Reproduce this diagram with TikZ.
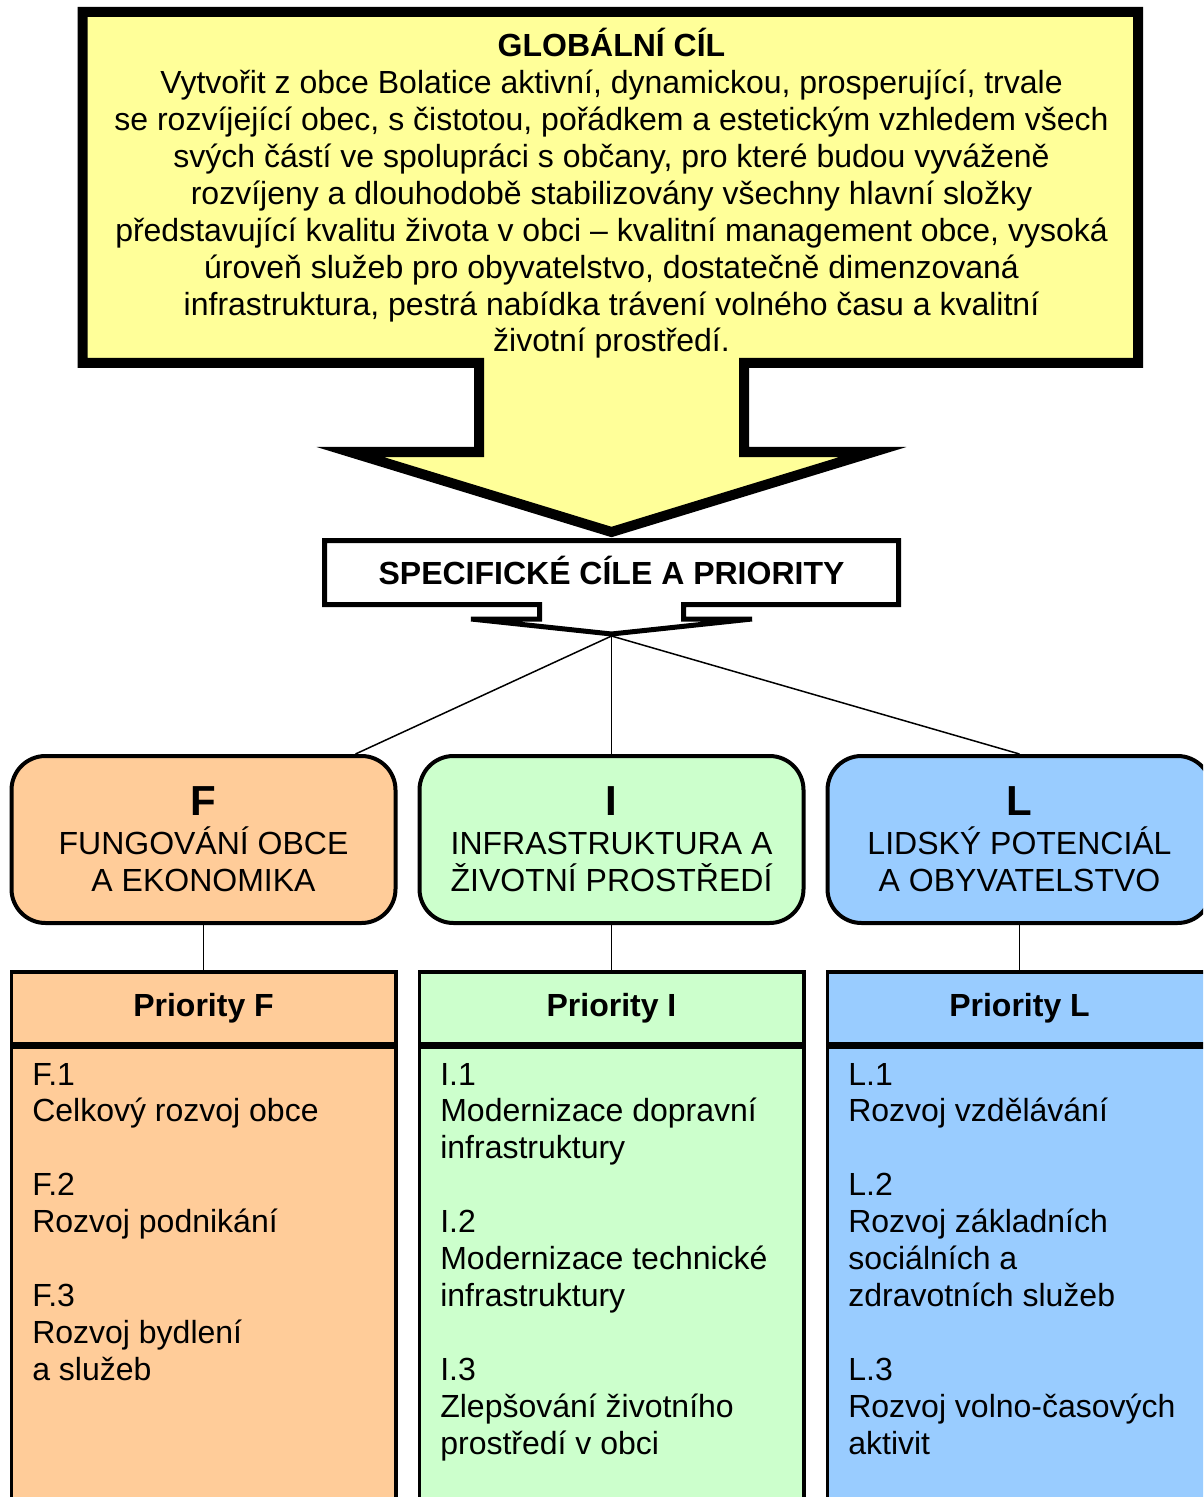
\documentclass[tikz,border=0pt]{standalone}
\usepackage{fontspec}
\setmainfont{Liberation Sans}
\definecolor{goalyellow}{HTML}{FFFF99}
\definecolor{fcolor}{HTML}{FFCC99}
\definecolor{icolor}{HTML}{CCFFCC}
\definecolor{lcolor}{HTML}{99CCFF}
\newcommand{\diagtext}{\fontsize{16}{18.45}\selectfont}
\newcommand{\bigletter}{\fontsize{21}{24}\selectfont\bfseries}
\begin{document}
\begin{tikzpicture}[x=0.5pt, y=-0.5pt,
    area/.style={draw, line width=2pt, rounded corners=17pt, minimum width=192pt,
        minimum height=83.5pt, align=center, inner sep=0pt, font=\diagtext},
    prioHead/.style={draw, line width=1.6pt, minimum width=192.4pt, minimum height=36pt,
        inner sep=0pt, font=\diagtext\bfseries},
    prioBody/.style={draw, line width=1.6pt, minimum width=192.4pt, minimum height=300pt,
        inner sep=0pt, anchor=north},
    prioList/.style={anchor=north west, align=left, inner sep=0pt, font=\diagtext},
    link/.style={line width=0.75pt}]
    \useasboundingbox (0,0) rectangle (1203,1497);
    \clip (0,0) rectangle (1203,1497);

    % Global goal with its arrow
    \draw [line width=5pt, line join=miter, fill=goalyellow]
        (82.5,12) -- (1138,12) -- (1138,363) -- (744,363) -- (744,452) -- (873,452)
        -- (611.5,532) -- (350,452) -- (479,452) -- (479,363) -- (82.5,363) -- cycle;
    \node [align=center, font=\diagtext, anchor=north, inner sep=0pt] (goal) at (611.5,28)
        {\textbf{GLOBÁLNÍ CÍL}\\
         Vytvořit z obce Bolatice aktivní, dynamickou, prosperující, trvale\\
         se rozvíjející obec, s čistotou, pořádkem a estetickým vzhledem všech\\
         svých částí ve spolupráci s občany, pro které budou vyváženě\\
         rozvíjeny a dlouhodobě stabilizovány všechny hlavní složky\\
         představující kvalitu života v obci – kvalitní management obce, vysoká\\
         úroveň služeb pro obyvatelstvo, dostatečně dimenzovaná\\
         infrastruktura, pestrá nabídka trávení volného času a kvalitní\\
         životní prostředí.};

    % Specific goals box with its small arrow
    \draw [line width=2.5pt, fill=white]
        (324.5,540.5) -- (898.5,540.5) -- (898.5,604.5) -- (683.5,604.5) -- (683.5,619)
        -- (752,619) -- (611.5,634) -- (471,619) -- (539.5,619) -- (539.5,604.5)
        -- (324.5,604.5) -- cycle;
    \node [font=\diagtext\bfseries] (spec) at (611.5,570) {SPECIFICKÉ CÍLE A PRIORITY};
    \coordinate (hub) at (611.5,636);

    % Areas
    \node [area, fill=fcolor] (areaF) at (203.5,839.5)
        {{\bigletter F}\\[1pt] FUNGOVÁNÍ OBCE\\A EKONOMIKA};
    \node [area, fill=icolor] (areaI) at (611.5,839.5)
        {{\bigletter I}\\[1pt] INFRASTRUKTURA A\\ŽIVOTNÍ PROSTŘEDÍ};
    \node [area, fill=lcolor] (areaL) at (1019.5,839.5)
        {{\bigletter L}\\[1pt] LIDSKÝ POTENCIÁL\\A OBYVATELSTVO};

    \draw [link] (hub) -- ([xshift=76pt]areaF.north);
    \draw [link] (hub) -- (areaI.north);
    \draw [link] (hub) -- (areaL.north);

    % Priorities
    \node [prioHead, fill=fcolor] (prioF) at (203.5,1008) {Priority F};
    \node [prioHead, fill=icolor] (prioI) at (611.5,1008) {Priority I};
    \node [prioHead, fill=lcolor] (prioL) at (1019.5,1008) {Priority L};
    \node [prioBody, fill=fcolor] (bodyF) at (prioF.south) {};
    \node [prioBody, fill=icolor] (bodyI) at (prioI.south) {};
    \node [prioBody, fill=lcolor] (bodyL) at (prioL.south) {};

    \node [prioList] (listF) at ([xshift=11.2pt, yshift=-8.5pt]bodyF.north west)
        {F.1\\Celkový rozvoj obce\\[18.45pt]F.2\\Rozvoj podnikání\\[18.45pt]F.3\\Rozvoj bydlení\\a služeb};
    \node [prioList] (listI) at ([xshift=11.2pt, yshift=-8.5pt]bodyI.north west)
        {I.1\\Modernizace dopravní\\infrastruktury\\[18.45pt]I.2\\Modernizace technické\\infrastruktury\\[18.45pt]I.3\\Zlepšování životního\\prostředí v obci};
    \node [prioList] (listL) at ([xshift=11.2pt, yshift=-8.5pt]bodyL.north west)
        {L.1\\Rozvoj vzdělávání\\[18.45pt]L.2\\Rozvoj základních\\sociálních a\\zdravotních služeb\\[18.45pt]L.3\\Rozvoj volno-časových\\aktivit};

    \draw [link] (areaF.south) -- (prioF.north);
    \draw [link] (areaI.south) -- (prioI.north);
    \draw [link] (areaL.south) -- (prioL.north);
\end{tikzpicture}
\end{document}
